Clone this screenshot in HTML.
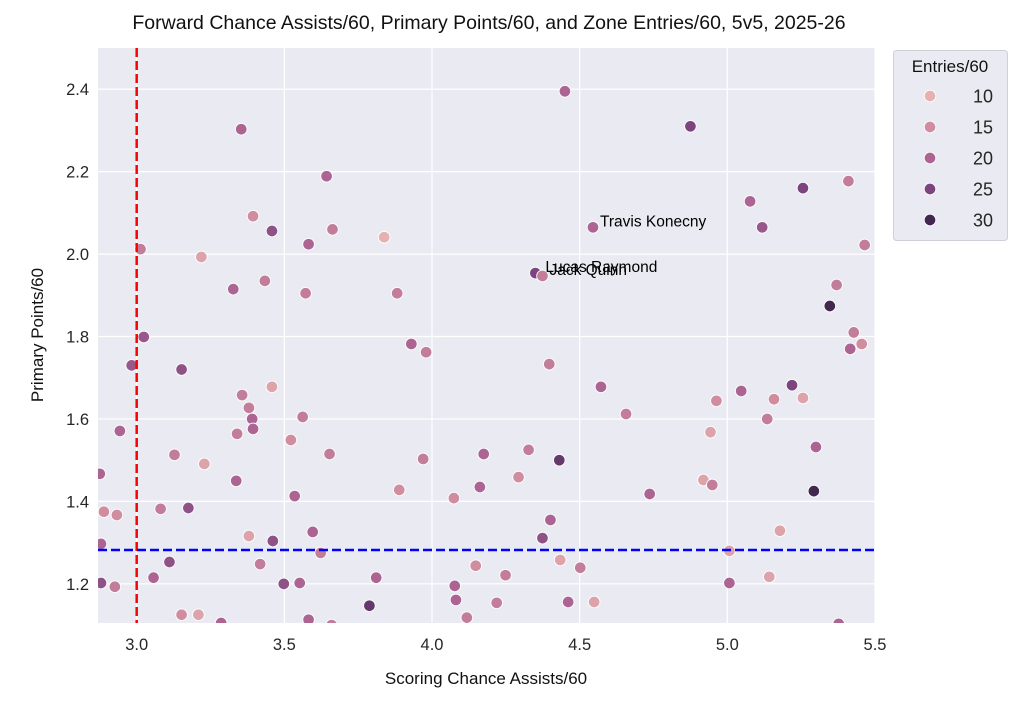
<!DOCTYPE html>
<html><head><meta charset="utf-8">
<style>
body{margin:0;background:#fff;font-family:"Liberation Sans",sans-serif;}
svg text{font-family:"Liberation Sans",sans-serif;}
</style></head>
<body>
<svg id="chart" width="1024" height="704">
</svg>
<script>
const xs=[4.45,4.875,3.354,3.643,5.077,5.256,5.41,5.465,4.545,5.118,3.394,3.458,3.663,3.838,3.582,3.013,3.219,4.35,4.374,3.434,3.327,3.572,3.882,5.37,5.347,5.428,5.416,5.455,3.024,3.93,3.98,4.397,2.983,3.152,4.572,3.458,3.357,5.047,5.219,5.158,5.256,4.963,3.38,3.562,3.391,4.657,5.135,2.943,3.34,3.394,4.943,3.522,4.327,3.128,4.175,3.653,5.3,3.97,4.431,3.229,2.875,4.293,4.919,3.337,4.949,3.889,5.293,4.737,4.162,3.535,4.074,2.889,2.933,3.081,3.175,4.401,3.596,3.38,5.178,4.374,3.461,2.879,5.007,3.623,3.111,3.418,4.434,4.502,4.148,4.249,3.057,5.142,3.811,2.879,3.498,3.552,4.077,5.007,2.926,4.081,4.461,4.549,4.219,3.788,3.152,3.209,4.118,3.582,3.286,5.377,3.66];
const ys=[2.395,2.31,2.303,2.189,2.128,2.16,2.177,2.022,2.065,2.065,2.092,2.056,2.06,2.041,2.024,2.012,1.993,1.954,1.947,1.935,1.915,1.905,1.905,1.925,1.874,1.81,1.77,1.782,1.799,1.782,1.762,1.733,1.73,1.72,1.678,1.678,1.658,1.668,1.682,1.648,1.651,1.644,1.627,1.605,1.6,1.612,1.6,1.571,1.564,1.576,1.568,1.549,1.525,1.513,1.515,1.515,1.532,1.503,1.5,1.491,1.467,1.459,1.452,1.45,1.44,1.428,1.425,1.418,1.435,1.413,1.408,1.375,1.367,1.382,1.384,1.355,1.326,1.316,1.329,1.311,1.304,1.297,1.28,1.275,1.253,1.248,1.258,1.239,1.244,1.221,1.215,1.217,1.215,1.202,1.2,1.202,1.195,1.202,1.193,1.161,1.156,1.156,1.154,1.147,1.125,1.125,1.118,1.113,1.105,1.103,1.1];
const entries=[20,25,20,20,20,25,17,17,20,22,15,23,17,10,20,17,12,25,17,17,20,17,17,17,30,17,20,15,22,20,17,17,22,23,20,12,17,20,25,15,12,15,17,17,20,17,17,20,17,20,12,15,17,17,20,17,20,17,27,12,20,15,12,20,17,15,30,20,20,20,15,15,15,17,23,20,20,12,12,23,23,20,12,17,23,17,12,17,15,17,20,12,20,23,23,20,20,20,17,20,20,12,17,27,15,12,17,20,20,20,17];
const labelNames=["Travis Konecny","Lucas Raymond","Jack Quinn"];
const labelX=[4.545,4.36,4.374];
const labelY=[2.065,1.954,1.947];
const xTicks=[3.0,3.5,4.0,4.5,5.0,5.5];
const yTicks=[1.2,1.4,1.6,1.8,2.0,2.2,2.4];
const legendVals=[10,15,20,25,30];
const refX=3.0, refY=1.282;

const L=98,R=875,T=48,B=623;
const X0=2.869,X1=5.5,Y0=1.105,Y1=2.5;
const sx=v=>L+(v-X0)/(X1-X0)*(R-L);
const sy=v=>B-(v-Y0)/(Y1-Y0)*(B-T);
const stops=[[10,[230,177,177]],[15,[208,141,160]],[20,[172,101,146]],[25,[124,69,128]],[30,[66,40,79]]];
function col(v){
  if(v<=stops[0][0])return `rgb(${stops[0][1]})`;
  for(let i=1;i<stops.length;i++){if(v<=stops[i][0]){const a=stops[i-1],b=stops[i],t=(v-a[0])/(b[0]-a[0]);
    return `rgb(${a[1].map((c,j)=>Math.round(c+(b[1][j]-c)*t)).join(',')})`;}}
  return `rgb(${stops[4][1]})`;
}
const svg=document.getElementById('chart');
const NS='http://www.w3.org/2000/svg';
function mk(tag,attrs,parent){const e=document.createElementNS(NS,tag);for(const k in attrs)e.setAttribute(k,attrs[k]);(parent||svg).appendChild(e);return e;}

const bg=mk('rect',{x:L,y:T,width:R-L,height:B-T,fill:'#eaeaf2'});


xTicks.forEach(t=>{
  const g=mk('line',{x1:sx(t),x2:sx(t),y1:T,y2:B,stroke:'#fff','stroke-width':1.2});
  
  
  const tx=mk('text',{x:sx(t),y:B+27,'text-anchor':'middle','font-size':16.5,fill:'#262626'});
  tx.textContent=t.toFixed(1);
  
  
});
yTicks.forEach(t=>{
  const g=mk('line',{x1:L,x2:R,y1:sy(t),y2:sy(t),stroke:'#fff','stroke-width':1.2});
  
  
  const tx=mk('text',{x:L-9,y:sy(t)+6,'text-anchor':'end','font-size':16.5,fill:'#262626'});
  tx.textContent=t.toFixed(1);
  
  
});
const clip=mk('clipPath',{id:'pc'});mk('rect',{x:L,y:T,width:R-L,height:B-T},clip);
const pg=mk('g',{'clip-path':'url(#pc)'});


xs.forEach((v,i)=>{
  const c=mk('circle',{cx:sx(v),cy:sy(ys[i]),r:5.8,fill:col(entries[i]),stroke:'#fff','stroke-width':0.9},pg);
  
  
});
const vl=mk('line',{x1:sx(refX),x2:sx(refX),y1:T,y2:B,stroke:'#ff0000','stroke-width':2.5,'stroke-dasharray':'9,4'});


const hl=mk('line',{x1:L,x2:R,y1:sy(refY),y2:sy(refY),stroke:'#0000ff','stroke-width':2.5,'stroke-dasharray':'9,4'});


labelNames.forEach((n,i)=>{
  const t=mk('text',{x:sx(labelX[i])+7,y:sy(labelY[i])-1,'font-size':15.5,fill:'#000'});
  t.textContent=n;
  
  
});
const title=mk('text',{x:489,y:29,'text-anchor':'middle','font-size':19.5,fill:'#111'});
title.textContent='Forward Chance Assists/60, Primary Points/60, and Zone Entries/60, 5v5, 2025-26';


const xl=mk('text',{x:486,y:684,'text-anchor':'middle','font-size':17,fill:'#111'});
xl.textContent='Scoring Chance Assists/60';


const yl=mk('text',{x:43,y:335,'text-anchor':'middle','font-size':17,fill:'#111',transform:'rotate(-90 43 335)'});
yl.textContent='Primary Points/60';


const lg=mk('g',{});


mk('rect',{x:893.5,y:50.5,width:114,height:190,rx:3,fill:'#eaeaf2',stroke:'#d0d0d8'},lg);
const lt=mk('text',{x:950,y:72,'text-anchor':'middle','font-size':17,fill:'#111'},lg);
lt.textContent='Entries/60';
legendVals.forEach((v,i)=>{
  const y=96+i*31;
  const c=mk('circle',{cx:930,cy:y,r:5.8,fill:col(v),stroke:'#fff','stroke-width':0.9},lg);
  
  
  const t=mk('text',{x:993,y:y+6.5,'text-anchor':'end','font-size':18,fill:'#262626'},lg);
  t.textContent=v;
  
  
});
</script>
</body></html>
